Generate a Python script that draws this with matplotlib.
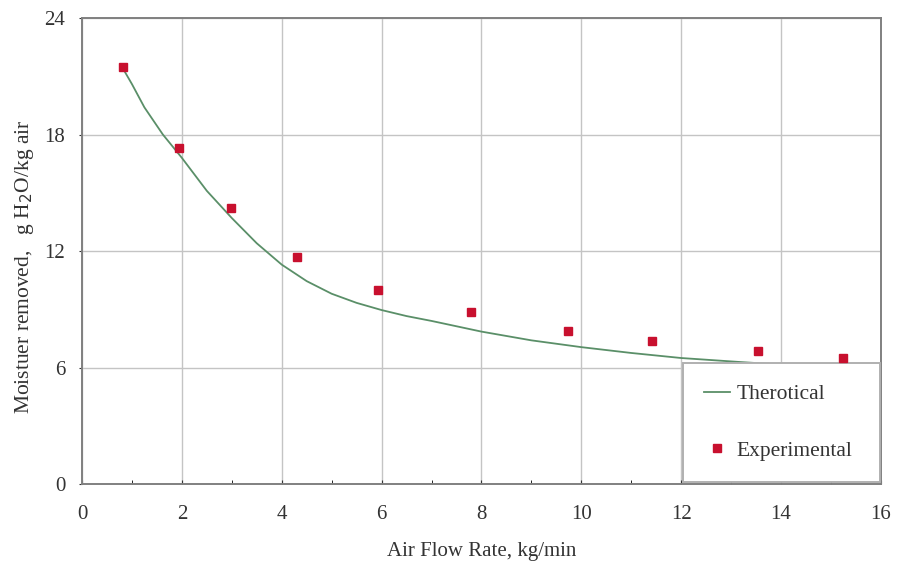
import numpy as np
import matplotlib
matplotlib.use("Agg")
import matplotlib.pyplot as plt
from matplotlib.lines import Line2D

# Experimental data
exp_x = [0.82, 1.94, 2.99, 4.31, 5.93, 7.80, 9.74, 11.42, 13.53, 15.25]
exp_y = [21.47, 17.3, 14.2, 11.69, 9.99, 8.86, 7.88, 7.36, 6.85, 6.49]

# Theoretical curve
theo_x = [0.82, 1.0, 1.25, 1.62, 2.0, 2.5, 3.0, 3.5, 4.0, 4.5, 5.0, 5.5, 6.0,
          6.5, 7.0, 8.0, 9.0, 10.0, 11.0, 12.0, 13.2, 14.0, 15.25]
theo_y = [21.4, 20.6, 19.4, 18.0, 16.8, 15.1, 13.7, 12.4, 11.3, 10.45, 9.8,
          9.33, 8.96, 8.65, 8.4, 7.85, 7.4, 7.05, 6.75, 6.49, 6.28, 6.15, 5.95]

plt.rcParams['font.family'] = ['Liberation Serif', 'DejaVu Serif']

fig = plt.figure(figsize=(8.98, 5.64), dpi=100)
ax = fig.add_axes([0.0913, 0.1418, 0.8897, 0.8262])

ax.plot(theo_x, theo_y, color='#5a8f68', lw=1.3, zorder=3)
ax.plot(exp_x, exp_y, 's', color='#c8102e', ms=6, zorder=6)

ax.set_xlim(0, 16)
ax.set_ylim(0, 24)
ax.set_xticks(np.arange(0, 17, 2))
ax.set_yticks([0, 6, 12, 18, 24])
ax.set_xticks(np.arange(0, 17, 1), minor=True)
ax.grid(True, which='major', color='#c4c4c4', lw=1.0, zorder=0)
ax.tick_params(axis='both', labelsize=15, colors='#333333')
ax.tick_params(axis='x', which='both', direction='in', length=3, pad=15)
ax.tick_params(axis='y', direction='out', length=2, pad=10)
for s in ax.spines.values():
    s.set_color('#808080')
    s.set_linewidth(1.4)

ax.set_xlabel('Air Flow Rate, kg/min', fontsize=15, color='#333333')
ax.set_ylabel('Moistuer removed,   g H$_2$O/kg air', fontsize=15.5, color='#333333')
ax.xaxis.set_label_coords(0.5, -0.124)
ax.yaxis.set_label_coords(-0.057, 0.466)

handles = [Line2D([], [], color='#5a8f68', lw=1.3),
           Line2D([], [], marker='s', ls='', color='#c8102e', ms=6)]
leg = ax.legend(handles, ['Therotical', 'Experimental'],
                loc='lower left', bbox_to_anchor=(0.752, 0.004, 0.247, 0.255),
                mode='expand', borderaxespad=0, fontsize=15.5, frameon=True,
                fancybox=False, labelspacing=1.68, borderpad=1.0,
                handlelength=1.2, handletextpad=0.3,
                framealpha=1.0, edgecolor='#b0b0b0')
leg.get_frame().set_linewidth(1.4)
for t in leg.get_texts():
    t.set_color('#333333')
leg.set_zorder(5)

fig.savefig('out.png', dpi=100)
